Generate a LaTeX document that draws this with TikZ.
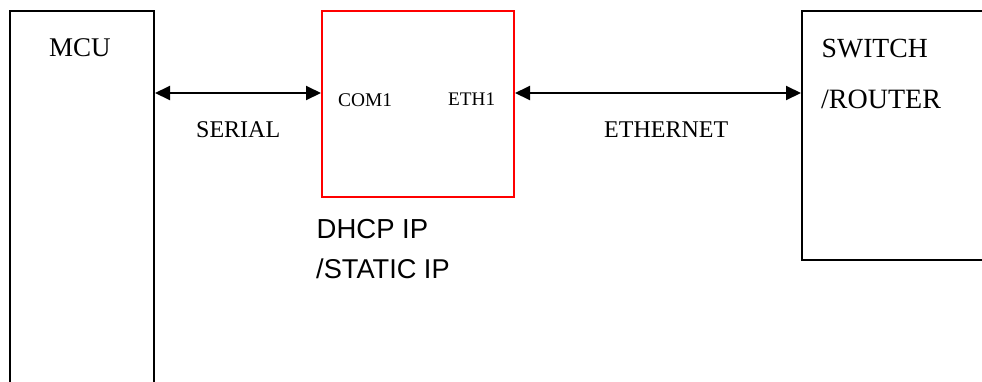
\documentclass[tikz,border=0pt]{standalone}
\usepackage{fontspec}
\setmainfont{Liberation Serif}
\newfontfamily\arialfont{Liberation Sans}
\usetikzlibrary{arrows.meta}
\begin{document}
\begin{tikzpicture}[x=1pt,y=-1pt,
  box/.style={draw=black, line width=2pt, inner sep=0pt, anchor=north west},
  redbox/.style={box, draw=red},
  conn/.style={line width=2pt, {Triangle[length=15pt,width=14pt]}-{Triangle[length=15pt,width=14pt]}},
  lbl/.style={anchor=base west, inner sep=0pt}]
\useasboundingbox (0,0) rectangle (982,381);
\fill[white] (0,0) rectangle (982,381);
\clip (0,0) rectangle (982,381);
\node[box, minimum width=144pt, minimum height=420pt] (mcu) at (9,10) {};
\node[redbox, minimum width=192pt, minimum height=186pt] (dev) at (321,10) {};
\node[box, minimum width=220pt, minimum height=249pt] (sw) at (801,10) {};
\coordinate (lvl) at (0,93);
\draw[conn] (mcu.east |- lvl) -- (dev.west |- lvl);
\draw[conn] (dev.east |- lvl) -- (sw.west |- lvl);
\node[lbl, font=\fontsize{27}{27}\selectfont] (tmcu) at (49,56) {MCU};
\node[lbl, font=\fontsize{24}{24}\selectfont] (tser) at (196,137) {SERIAL};
\node[lbl, font=\fontsize{19.4}{19.4}\selectfont] (tcom) at (338,106) {COM1};
\node[lbl, font=\fontsize{19.2}{19.2}\selectfont] (teth) at (448,105) {ETH1};
\node[lbl, font=\fontsize{24}{24}\selectfont] (tethn) at (604,137) {ETHERNET};
\node[lbl, font=\fontsize{27.7}{27.7}\selectfont] (tsw) at (821.5,57) {SWITCH};
\node[lbl, font=\fontsize{28}{28}\selectfont] (trt) at (821,108) {/ROUTER};
\node[lbl, font=\arialfont\fontsize{27.5}{27.5}\selectfont] (tdhcp) at (316.5,238) {DHCP IP};
\node[lbl, font=\arialfont\fontsize{27.2}{27.2}\selectfont] (tstat) at (316,278) {/STATIC IP};
\end{tikzpicture}
\end{document}
